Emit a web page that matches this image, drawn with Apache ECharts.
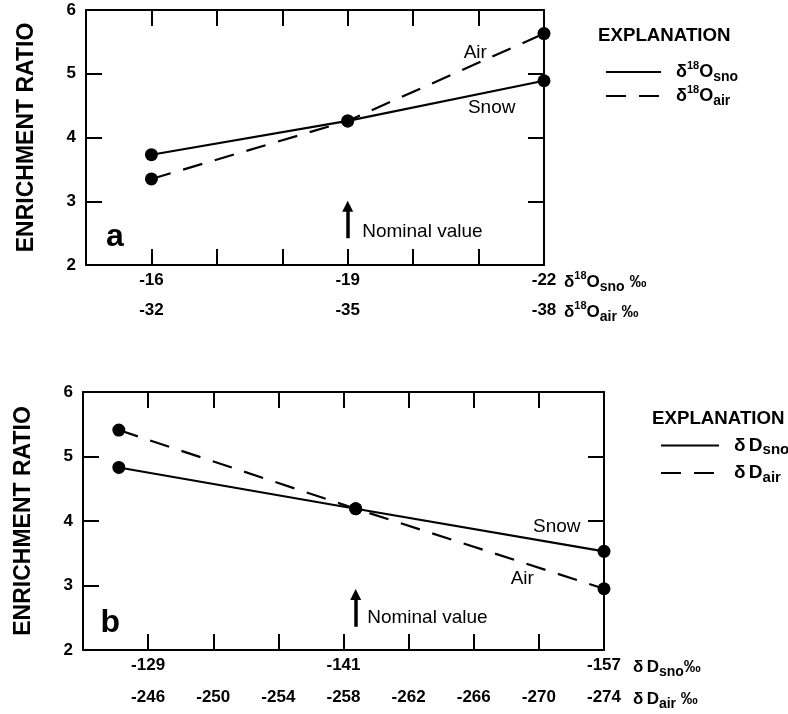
<!DOCTYPE html>
<html>
<head>
<meta charset="utf-8">
<script src="https://cdn.jsdelivr.net/npm/echarts@6/dist/echarts.min.js"></script>
<style>
  html, body { margin: 0; padding: 0; background: #fff; }
  #chart { width: 788px; height: 714px; }
</style>
</head>
<body>
<div id="chart"></div>
<script>
// Panel a: oxygen-18
const oxySnoPos = [-16, -19, -22];           // δ18O snow, ‰
const oxyAirPos = [-32, -35, -38];           // δ18O air, ‰
const oxySnowRatio = [3.73, 4.26, 4.89];
const oxyAirRatio = [3.35, 4.26, 5.63];
const oxySnoLabels = [-16, -19, -22];
const oxyAirLabels = [-32, -35, -38];
const oxyTicks = [-16, -17, -18, -19, -20, -21];

// Panel b: deuterium
const detSnoPos = [-127.2, -141.75, -157];   // δD snow, ‰
const detAirPos = [-244.2, -258.75, -274];   // δD air, ‰
const detSnowRatio = [4.83, 4.19, 3.53];
const detAirRatio = [5.41, 4.19, 2.95];
const detSnoLabels = [-129, -141, -157];
const detAirLabels = [-246, -250, -254, -258, -262, -266, -270, -274];
const detTicks = [-129, -133, -137, -141, -145, -149, -153];

const ratioTicks = [3, 4, 5];

const FONT = '"Liberation Sans", Arial, Helvetica, sans-serif';
const INK = '#000';

function pairs(xs, ys) { return xs.map((x, i) => [x, ys[i]]); }

function symRich(size, subSize, supSize) {
  return {
    g: { fontSize: size, fontFamily: FONT, fontWeight: 'bold', color: INK, lineHeight: 24, verticalAlign: 'middle' },
    gp: { fontSize: size, fontFamily: FONT, fontWeight: 'bold', color: INK, lineHeight: 24, verticalAlign: 'middle', padding: [0, 0, 0, 10] },
    b: { fontSize: size, fontFamily: FONT, fontWeight: 'bold', color: INK, lineHeight: 24, verticalAlign: 'middle' },
    sup: { fontSize: supSize, fontFamily: FONT, fontWeight: 'bold', color: INK, lineHeight: 13, verticalAlign: 'top' },
    sub: { fontSize: subSize, fontFamily: FONT, fontWeight: 'bold', color: INK, lineHeight: 13, verticalAlign: 'bottom' }
  };
}

const legendText = {
  'δ18Osno': '{gp|δ}{sup|18}{b|O}{sub|sno}',
  'δ18Oair': '{gp|δ}{sup|18}{b|O}{sub|air}',
  'δDsno': '{gp|δ} {b|D}{sub|sno}',
  'δDair': '{gp|δ} {b|D}{sub|air}'
};

const tickLabelStyle = { fontSize: 17, fontWeight: 'bold', fontFamily: FONT, color: INK };
const axisLineStyle = { color: INK, width: 2 };

// The δ axes run from less to more negative, so they are inverted and
// their names sit at the 'start' end (the right-hand side).
function bottomAxis(grid, min, max, tickVals, labelVals, name, nameGap) {
  return {
    type: 'value', gridIndex: grid, position: 'bottom', inverse: true,
    min: min, max: max,
    axisLine: { show: true, onZero: false, lineStyle: axisLineStyle },
    axisTick: { show: true, inside: true, length: 16, customValues: tickVals, lineStyle: { color: INK, width: 2 } },
    axisLabel: Object.assign({ show: true, margin: 7, customValues: labelVals }, tickLabelStyle),
    splitLine: { show: false },
    name: name, nameLocation: 'start', nameGap: nameGap, nameMoveOverlap: false,
    nameTextStyle: { verticalAlign: 'top', padding: [5, 0, 0, 0], rich: symRich(17, 14, 11) }
  };
}
function offsetAxis(grid, min, max, labelVals, offset, name, nameGap) {
  return {
    type: 'value', gridIndex: grid, position: 'bottom', inverse: true, offset: offset,
    min: min, max: max,
    axisLine: { show: false }, axisTick: { show: false },
    axisLabel: Object.assign({ show: true, margin: 7, customValues: labelVals }, tickLabelStyle),
    splitLine: { show: false },
    name: name, nameLocation: 'start', nameGap: nameGap, nameMoveOverlap: false,
    nameTextStyle: { verticalAlign: 'top', padding: [5, 0, 0, 0], rich: symRich(17, 14, 11) }
  };
}
function topAxis(grid, min, max, tickVals) {
  return {
    type: 'value', gridIndex: grid, position: 'top', inverse: true,
    min: min, max: max,
    axisLine: { show: true, onZero: false, lineStyle: axisLineStyle },
    axisTick: { show: true, inside: true, length: 16, customValues: tickVals, lineStyle: { color: INK, width: 2 } },
    axisLabel: { show: false }, splitLine: { show: false }
  };
}
function leftAxis(grid) {
  return {
    type: 'value', gridIndex: grid, position: 'left', min: 2, max: 6, interval: 1,
    axisLine: { show: true, onZero: false, lineStyle: axisLineStyle },
    axisTick: { show: true, inside: true, length: 16, customValues: ratioTicks, lineStyle: { color: INK, width: 2 } },
    axisLabel: Object.assign({ show: true, margin: 10 }, tickLabelStyle),
    splitLine: { show: false },
    name: 'ENRICHMENT RATIO', nameLocation: 'middle', nameGap: 48, nameMoveOverlap: false,
    nameTextStyle: { fontSize: 23, fontWeight: 'bold', fontFamily: FONT, color: INK }
  };
}
function rightAxis(grid, tickVals) {
  return {
    type: 'value', gridIndex: grid, position: 'right', min: 2, max: 6, interval: 1,
    axisLine: { show: true, onZero: false, lineStyle: axisLineStyle },
    axisTick: { show: true, inside: true, length: 16, customValues: tickVals, lineStyle: { color: INK, width: 2 } },
    axisLabel: { show: false }, splitLine: { show: false }
  };
}

const noteLabel = { show: true, position: 'inside', color: INK, fontSize: 19, fontFamily: FONT, fontWeight: 'normal', formatter: '{b}' };
function note(name, coord, extra) {
  return { name: name, coord: coord, label: Object.assign({}, noteLabel, extra || {}) };
}

function lineSeries(name, xi, yi, data, dashed, marks) {
  const s = {
    name: name, type: 'line', xAxisIndex: xi, yAxisIndex: yi, data: data,
    symbol: 'circle', symbolSize: 13, showSymbol: true, clip: false,
    itemStyle: { color: INK },
    lineStyle: { color: INK, width: 2.2, type: dashed ? [20, 13] : 'solid' },
    emphasis: { disabled: true }, silent: true, animation: false, z: 5
  };
  return Object.assign(s, marks || {});
}

// "Nominal value" pointer: a short upward arrow
function arrow(x, y0, y1) {
  return {
    silent: true, animation: false,
    symbol: ['none', 'triangle'], symbolSize: 11,
    itemStyle: { color: INK },
    lineStyle: { color: INK, width: 3.5, type: 'solid' },
    label: { show: false }, emphasis: { disabled: true },
    data: [[{ coord: [x, y0] }, { coord: [x, y1] }]]
  };
}
function notes(items) {
  return {
    silent: true, animation: false, symbol: 'circle', symbolSize: 1,
    itemStyle: { color: 'rgba(0,0,0,0)' }, emphasis: { disabled: true },
    data: items
  };
}

const option = {
  animation: false,
  backgroundColor: '#fff',
  textStyle: { fontFamily: FONT, color: INK },
  title: [
    { text: 'EXPLANATION', left: 598, top: 26, padding: 0, textStyle: { fontSize: 18.7, fontWeight: 'bold', fontFamily: FONT, color: INK } },
    { text: 'EXPLANATION', left: 652, top: 409, padding: 0, textStyle: { fontSize: 18.7, fontWeight: 'bold', fontFamily: FONT, color: INK } }
  ],
  legend: [
    {
      data: ['δ18Osno', 'δ18Oair'], orient: 'vertical', left: 605, top: 60, padding: 0,
      itemWidth: 55, itemHeight: 14, itemGap: 0, selectedMode: false,
      itemStyle: { opacity: 0 },
      formatter: n => legendText[n],
      textStyle: { rich: symRich(18, 14, 11) }
    },
    {
      data: ['δDsno', 'δDair'], orient: 'vertical', left: 660, top: 436, padding: 0,
      itemWidth: 58, itemHeight: 14, itemGap: 6, selectedMode: false,
      itemStyle: { opacity: 0 },
      formatter: n => legendText[n],
      textStyle: { rich: symRich(19, 15, 11) }
    }
  ],
  grid: [
    { left: 86, top: 10, width: 458, height: 255, outerBoundsMode: 'none', containLabel: false },
    { left: 83, top: 392, width: 521, height: 258, outerBoundsMode: 'none', containLabel: false }
  ],
  xAxis: [
    bottomAxis(0, -22, -15, oxyTicks, oxySnoLabels, '{g|δ}{sup|18}{b|O}{sub|sno}{b| ‰}', 20),
    offsetAxis(0, -38, -31, oxyAirLabels, 30, '{g|δ}{sup|18}{b|O}{sub|air}{b| ‰}', 20),
    topAxis(0, -22, -15, oxyTicks),
    bottomAxis(1, -157, -125, detTicks, detSnoLabels, '{g|δ} {b|D}{sub|sno}{b|‰}', 29),
    offsetAxis(1, -274, -242, detAirLabels, 32, '{g|δ} {b|D}{sub|air}{b| ‰}', 29),
    topAxis(1, -157, -125, detTicks)
  ],
  yAxis: [
    leftAxis(0), rightAxis(0, ratioTicks),
    leftAxis(1), rightAxis(1, [4, 5])
  ],
  series: [
    lineSeries('δ18Osno', 0, 0, pairs(oxySnoPos, oxySnowRatio), false, {
      markLine: arrow(-19, 2.42, 2.92),
      markPoint: notes([
        note('Air', [-20.95, 5.33]),
        note('Snow', [-21.2, 4.46]),
        note('a', [-15.44, 2.44], { fontSize: 32, fontWeight: 'bold' }),
        note('Nominal value', [-19, 2.52], { position: 'right', distance: 14 })
      ])
    }),
    lineSeries('δ18Oair', 1, 0, pairs(oxyAirPos, oxyAirRatio), true),
    lineSeries('δDsno', 3, 2, pairs(detSnoPos, detSnowRatio), false, {
      markLine: arrow(-141.75, 2.36, 2.86),
      markPoint: notes([
        note('Snow', [-154.1, 3.91]),
        note('Air', [-151.98, 3.11]),
        note('b', [-126.67, 2.42], { fontSize: 32, fontWeight: 'bold' }),
        note('Nominal value', [-141.75, 2.5], { position: 'right', distance: 11 })
      ])
    }),
    lineSeries('δDair', 4, 2, pairs(detAirPos, detAirRatio), true)
  ]
};

const chart = echarts.init(document.getElementById('chart'), null, { renderer: 'canvas' });
chart.setOption(option);
</script>
</body>
</html>
